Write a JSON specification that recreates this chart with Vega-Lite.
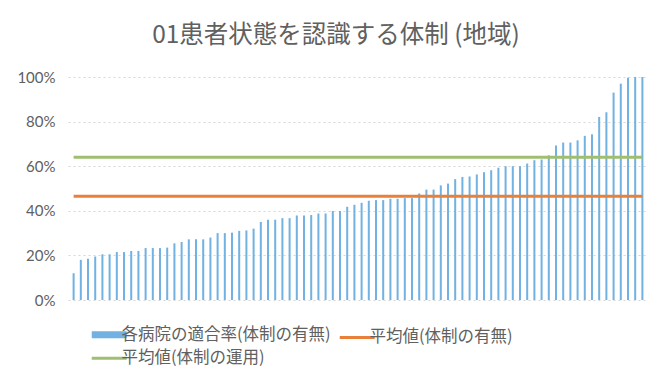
{
  "$schema": "https://vega.github.io/schema/vega-lite/v6.json",
  "width": 580,
  "height": 223,
  "autosize": "none",
  "padding": {"left": 68, "top": 77, "right": 4, "bottom": 85},
  "background": "white",
  "title": {"text": "01患者状態を認識する体制 (地域)", "font": "Noto Sans CJK JP", "fontSize": 24.5, "fontWeight": "normal", "color": "#606060", "offset": 22, "dx": -22},
  "config": {"view": {"stroke": null}, "font": "Noto Sans CJK JP"},
  "data": {"values": [
    {"h": 1, "rate": 12, "avg1": 46.5, "avg2": 64},
    {"h": 2, "rate": 18, "avg1": 46.5, "avg2": 64},
    {"h": 3, "rate": 18.5, "avg1": 46.5, "avg2": 64},
    {"h": 4, "rate": 19.5, "avg1": 46.5, "avg2": 64},
    {"h": 5, "rate": 20.5, "avg1": 46.5, "avg2": 64},
    {"h": 6, "rate": 20.5, "avg1": 46.5, "avg2": 64},
    {"h": 7, "rate": 21.5, "avg1": 46.5, "avg2": 64},
    {"h": 8, "rate": 21.5, "avg1": 46.5, "avg2": 64},
    {"h": 9, "rate": 22, "avg1": 46.5, "avg2": 64},
    {"h": 10, "rate": 22, "avg1": 46.5, "avg2": 64},
    {"h": 11, "rate": 23.3, "avg1": 46.5, "avg2": 64},
    {"h": 12, "rate": 23.3, "avg1": 46.5, "avg2": 64},
    {"h": 13, "rate": 23.3, "avg1": 46.5, "avg2": 64},
    {"h": 14, "rate": 23.5, "avg1": 46.5, "avg2": 64},
    {"h": 15, "rate": 25.4, "avg1": 46.5, "avg2": 64},
    {"h": 16, "rate": 26, "avg1": 46.5, "avg2": 64},
    {"h": 17, "rate": 27.2, "avg1": 46.5, "avg2": 64},
    {"h": 18, "rate": 27.2, "avg1": 46.5, "avg2": 64},
    {"h": 19, "rate": 27.2, "avg1": 46.5, "avg2": 64},
    {"h": 20, "rate": 28, "avg1": 46.5, "avg2": 64},
    {"h": 21, "rate": 30, "avg1": 46.5, "avg2": 64},
    {"h": 22, "rate": 30, "avg1": 46.5, "avg2": 64},
    {"h": 23, "rate": 30.2, "avg1": 46.5, "avg2": 64},
    {"h": 24, "rate": 31, "avg1": 46.5, "avg2": 64},
    {"h": 25, "rate": 31.2, "avg1": 46.5, "avg2": 64},
    {"h": 26, "rate": 32, "avg1": 46.5, "avg2": 64},
    {"h": 27, "rate": 35, "avg1": 46.5, "avg2": 64},
    {"h": 28, "rate": 36, "avg1": 46.5, "avg2": 64},
    {"h": 29, "rate": 36, "avg1": 46.5, "avg2": 64},
    {"h": 30, "rate": 36.7, "avg1": 46.5, "avg2": 64},
    {"h": 31, "rate": 36.7, "avg1": 46.5, "avg2": 64},
    {"h": 32, "rate": 37.9, "avg1": 46.5, "avg2": 64},
    {"h": 33, "rate": 37.9, "avg1": 46.5, "avg2": 64},
    {"h": 34, "rate": 38.1, "avg1": 46.5, "avg2": 64},
    {"h": 35, "rate": 38.8, "avg1": 46.5, "avg2": 64},
    {"h": 36, "rate": 38.8, "avg1": 46.5, "avg2": 64},
    {"h": 37, "rate": 39.9, "avg1": 46.5, "avg2": 64},
    {"h": 38, "rate": 39.9, "avg1": 46.5, "avg2": 64},
    {"h": 39, "rate": 41.8, "avg1": 46.5, "avg2": 64},
    {"h": 40, "rate": 42.7, "avg1": 46.5, "avg2": 64},
    {"h": 41, "rate": 43.6, "avg1": 46.5, "avg2": 64},
    {"h": 42, "rate": 44.5, "avg1": 46.5, "avg2": 64},
    {"h": 43, "rate": 44.8, "avg1": 46.5, "avg2": 64},
    {"h": 44, "rate": 44.8, "avg1": 46.5, "avg2": 64},
    {"h": 45, "rate": 45.4, "avg1": 46.5, "avg2": 64},
    {"h": 46, "rate": 45.4, "avg1": 46.5, "avg2": 64},
    {"h": 47, "rate": 45.7, "avg1": 46.5, "avg2": 64},
    {"h": 48, "rate": 45.7, "avg1": 46.5, "avg2": 64},
    {"h": 49, "rate": 47.8, "avg1": 46.5, "avg2": 64},
    {"h": 50, "rate": 49.5, "avg1": 46.5, "avg2": 64},
    {"h": 51, "rate": 49.5, "avg1": 46.5, "avg2": 64},
    {"h": 52, "rate": 51.4, "avg1": 46.5, "avg2": 64},
    {"h": 53, "rate": 52.2, "avg1": 46.5, "avg2": 64},
    {"h": 54, "rate": 54.2, "avg1": 46.5, "avg2": 64},
    {"h": 55, "rate": 55.2, "avg1": 46.5, "avg2": 64},
    {"h": 56, "rate": 55.4, "avg1": 46.5, "avg2": 64},
    {"h": 57, "rate": 56.3, "avg1": 46.5, "avg2": 64},
    {"h": 58, "rate": 57.3, "avg1": 46.5, "avg2": 64},
    {"h": 59, "rate": 58.2, "avg1": 46.5, "avg2": 64},
    {"h": 60, "rate": 59.3, "avg1": 46.5, "avg2": 64},
    {"h": 61, "rate": 60, "avg1": 46.5, "avg2": 64},
    {"h": 62, "rate": 60, "avg1": 46.5, "avg2": 64},
    {"h": 63, "rate": 60, "avg1": 46.5, "avg2": 64},
    {"h": 64, "rate": 61.2, "avg1": 46.5, "avg2": 64},
    {"h": 65, "rate": 62.7, "avg1": 46.5, "avg2": 64},
    {"h": 66, "rate": 63, "avg1": 46.5, "avg2": 64},
    {"h": 67, "rate": 64.9, "avg1": 46.5, "avg2": 64},
    {"h": 68, "rate": 69.3, "avg1": 46.5, "avg2": 64},
    {"h": 69, "rate": 70.6, "avg1": 46.5, "avg2": 64},
    {"h": 70, "rate": 70.6, "avg1": 46.5, "avg2": 64},
    {"h": 71, "rate": 71.6, "avg1": 46.5, "avg2": 64},
    {"h": 72, "rate": 73.6, "avg1": 46.5, "avg2": 64},
    {"h": 73, "rate": 74.3, "avg1": 46.5, "avg2": 64},
    {"h": 74, "rate": 82.1, "avg1": 46.5, "avg2": 64},
    {"h": 75, "rate": 84.2, "avg1": 46.5, "avg2": 64},
    {"h": 76, "rate": 93, "avg1": 46.5, "avg2": 64},
    {"h": 77, "rate": 97, "avg1": 46.5, "avg2": 64},
    {"h": 78, "rate": 99.7, "avg1": 46.5, "avg2": 64},
    {"h": 79, "rate": 100, "avg1": 46.5, "avg2": 64},
    {"h": 80, "rate": 100, "avg1": 46.5, "avg2": 64}
  ]},
  "encoding": {
    "x": {"field": "h", "type": "ordinal", "scale": {"paddingInner": 0.72, "paddingOuter": 0.64}, "axis": null}
  },
  "layer": [
    {
      "mark": {"type": "bar"},
      "encoding": {
        "y": {"field": "rate", "type": "quantitative", "scale": {"domain": [0, 100]},
          "axis": {"title": null, "values": [0, 20, 40, 60, 80, 100], "labelExpr": "datum.value + '%'", "domain": false, "ticks": false, "labelPadding": 13, "labelFont": "Lato", "labelFontSize": 15, "labelColor": "#606060", "grid": true, "gridColor": "#d6d6d6", "gridDash": [2, 3]}},
        "color": {"datum": "各病院の適合率(体制の有無)",
          "scale": {"domain": ["各病院の適合率(体制の有無)", "平均値(体制の有無)", "平均値(体制の運用)"], "range": ["#72b2e2", "#e8803a", "#9fbe70"]},
          "legend": {"orient": "none", "direction": "horizontal", "legendX": 33, "legendY": 249, "title": null, "columns": 2, "symbolType": "stroke", "symbolSize": 1225, "symbolStrokeWidth": 3, "labelFontSize": 16.5, "labelLimit": 400, "labelColor": "#606060", "labelFont": "Noto Sans CJK JP", "labelOffset": 4, "columnPadding": 2, "rowPadding": 1,
            "encode": {"symbols": {"update": {"strokeWidth": {"signal": "datum.value === '各病院の適合率(体制の有無)' ? 7 : 3"}, "stroke": {"scale": "color", "field": "value"}, "fill": {"value": "transparent"}}}}}}
      }
    },
    {
      "mark": {"type": "line", "strokeWidth": 3},
      "encoding": {"y": {"field": "avg1", "type": "quantitative"}, "color": {"datum": "平均値(体制の有無)"}}
    },
    {
      "mark": {"type": "line", "strokeWidth": 3},
      "encoding": {"y": {"field": "avg2", "type": "quantitative"}, "color": {"datum": "平均値(体制の運用)"}}
    }
  ]
}
